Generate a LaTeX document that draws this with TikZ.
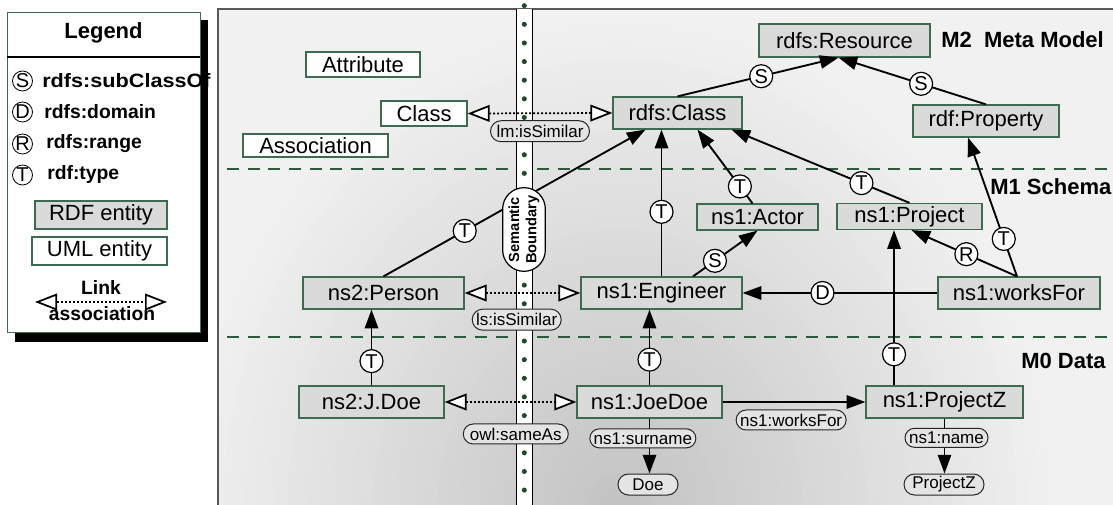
\documentclass[tikz,border=0pt]{standalone}
\usepackage{fontspec}
\setmainfont{Liberation Sans}
\usetikzlibrary{arrows.meta,shapes.misc,calc}
\definecolor{bgreen}{HTML}{3E6B50}
\definecolor{rdfgray}{HTML}{DADADA}
\definecolor{pillgray}{HTML}{E4E4E4}
\definecolor{dgreen}{HTML}{2B5A3C}
\definecolor{dotgreen}{HTML}{1E4A2E}
\definecolor{bglight}{HTML}{F1F1F1}
\definecolor{bgdark}{HTML}{C3C3C3}
\begin{document}
\begin{tikzpicture}[x=0.75pt,y=-0.75pt,
  sz/.style 2 args={minimum width=#1*0.75pt,minimum height=#2*0.75pt},
  box/.style={draw=bgreen,line width=0.9pt,inner sep=0pt,font=\fontsize{16.5}{18}\selectfont},
  rdfbox/.style={box,fill=rdfgray},
  umlbox/.style={box,fill=white},
  pill/.style={rounded rectangle,solid,draw=black!85,fill=pillgray,line width=0.75pt,inner xsep=3pt,inner ysep=0pt,font=\fontsize{12.75}{14}\selectfont},
  circ/.style={circle,solid,draw=black,fill=white,line width=0.9pt,inner sep=0pt,minimum size=17.25pt,font=\fontsize{15}{15}\selectfont},
  lcirc/.style={circ,line width=0.6pt,minimum size=15pt},
  conn/.style={line width=1.4pt,-{Triangle[length=14pt,width=10pt]}},
  link/.style={line width=1.3pt,dash pattern=on 1.5pt off 1.5pt,{Triangle[open,length=16.5pt,width=12.5pt,fill=white]}-{Triangle[open,length=16.5pt,width=12.5pt,fill=white]}},
  level/.style={font=\bfseries\fontsize{16.5}{19}\selectfont,anchor=west,inner sep=0pt},
  leg/.style={font=\bfseries\fontsize{14.5}{16}\selectfont,anchor=west,inner sep=0pt},
]
\useasboundingbox (0,0) rectangle (1113,505);

% ---------- Legend ----------
\fill[black] (15,20) rectangle (208,342);
\draw[draw=bgreen,fill=white,line width=0.75pt] (7,13) rectangle (200,333);
\draw[line width=1.5pt] (7,57) -- (200,57);
\node[font=\bfseries\fontsize{16.5}{18}\selectfont] (legtitle) at (103.5,33) {Legend};
\node[lcirc] (lS) at (22.5,81) {S};
\node[leg] (lSt) at (42,81) {\scalebox{1.12}[1]{rdfs:subClassOf}};
\node[lcirc] (lD) at (22.5,112) {D};
\node[leg] (lDt) at (44,112) {rdfs:domain};
\node[lcirc] (lR) at (22.5,144) {R};
\node[leg] (lRt) at (46,144) {rdfs:range};
\node[lcirc] (lT) at (22.5,175) {T};
\node[leg] (lTt) at (47,175) {rdf:type};
\node[rdfbox,sz={132}{28}] (lrdf) at (101,215) {RDF entity};
\node[umlbox,sz={135}{28}] (luml) at (99.5,251) {UML entity};
\coordinate (la) at (35,302);
\coordinate (lb) at (167,302);
\draw[link] (la) -- (lb);
\node[font=\bfseries\fontsize{14.5}{16}\selectfont] (llink) at (101,287) {Link};
\node[font=\bfseries\fontsize{14.5}{16}\selectfont] (lassoc) at (102,314) {association};

% ---------- Panel ----------
\begin{scope}
\clip (218,9) rectangle (1113,505);
\fill[bglight] (218,9) rectangle (1113,505);
\foreach \k in {0,...,40}{
  \pgfmathsetmacro\f{1-\k/41}
  \pgfmathtruncatemacro\p{100*\k/40}
  \fill[bgdark!\p!bglight] (620,510) ellipse [x radius={\f*330pt}, y radius={\f*375pt}];
}
\end{scope}
\draw[line width=0.9pt,black!65] (1113,9) -- (218,9) -- (218,505);

\draw[dgreen,line width=1.6pt,dash pattern=on 9pt off 6.5pt] (227,169) -- (1113,169);
\draw[dgreen,line width=1.6pt,dash pattern=on 9pt off 6.5pt] (227,337) -- (1113,337);

% boundary strip
\fill[white] (516,9) rectangle (532,505);
\draw[black,line width=0.75pt] (516,9) -- (516,505) (532,9) -- (532,505);
\foreach \i in {0,...,26} \fill[dotgreen] (524.3,{5.7+18.63*\i}) circle[radius=1.9pt];

\node[level] (m2) at (941,40) {M2\ \ Meta Model};
\node[level] (m1) at (990,187) {M1 Schema};
\node[level] (m0) at (1021,361) {M0 Data};

% ---------- Nodes ----------
\node[rdfbox,sz={171}{33}] (res) at (844.5,40.5) {rdfs:Resource};
\node[rdfbox,sz={146}{32}] (prop) at (986,121) {rdf:Property};
\node[rdfbox,sz={129}{32}] (cls) at (677.5,113) {rdfs:Class};
\node[umlbox,sz={86}{25}] (umlclass) at (424,113.5) {Class};
\node[umlbox,sz={114}{25}] (attr) at (363,64.5) {Attribute};
\node[umlbox,sz={145}{23}] (assoc) at (315.5,145.5) {Association};
\node[rdfbox,sz={161}{32}] (person) at (383.5,293) {ns2:Person};
\node[rdfbox,sz={161}{32}] (eng) at (661.5,293) {ns1:Engineer};
\node[rdfbox,sz={121}{26}] (actor) at (757.5,217) {ns1:Actor};
\node[rdfbox,sz={145}{26}] (proj) at (909.5,216.5) {ns1:Project};
\node[rdfbox,sz={162}{32}] (wf) at (1019,293) {ns1:worksFor};
\node[rdfbox,sz={145}{32}] (jdoe) at (371.5,402) {ns2:J.Doe};
\node[rdfbox,sz={145}{32}] (joe) at (649.5,402) {ns1:JoeDoe};
\node[rdfbox,sz={157}{32}] (pz) at (944.5,402) {ns1:ProjectZ};
\node[pill,sz={68}{21}] (doe) at (648,484.5) {Doe};
\node[pill,sz={88}{21}] (pzval) at (944,484.5) {ProjectZ};

% ---------- Connectors ----------
\draw[conn] (cls.north) -- node[circ,pos=.52]{S} ($(res.south)+(-6,0)$);
\draw[conn] (prop.north) -- node[circ,pos=.44]{S} ($(res.south)+(-6,0)$);
\draw[link] (umlclass.east) -- node[pill,sz={96}{21},pos=.5,yshift=-13.5pt]{lm:isSimilar} (cls.west);
\draw[conn] (person.north) -- node[circ,pos=.31]{T} ($(cls.south)+(-32,0)$);
\draw[conn] (eng.north) -- node[circ,pos=.44]{T} (eng.north |- cls.south);
\draw[conn] ($(actor.north)+(-5,0)$) -- node[circ,pos=.23]{T} ($(cls.south)+(20,0)$);
\draw[conn] (proj.north) -- node[circ,pos=.27]{T} ($(cls.south)+(54,0)$);
\draw[conn] ($(wf.north)+(-2,0)$) -- node[circ,pos=.27]{T} ($(prop.south)+(-18,0)$);
\draw[conn] ($(wf.north)+(-2,0)$) -- node[circ,pos=.48]{R} ($(proj.south)+(2,0)$);
\coordinate (pzt) at ($(pz.north)+(-50.5,0)$);
\draw[conn] (pzt) -- node[circ,pos=.2]{T} (pzt |- proj.south);
\draw[conn] (wf.west) -- node[circ,pos=.59]{D} (eng.east);
\draw[conn] ($(eng.north)+(31.5,0)$) -- node[circ,pos=.34]{S} (actor.south);
\draw[link] (person.east) -- node[pill,sz={97}{21},pos=.45,yshift=-20pt]{ls:isSimilar} (eng.west);
\draw[conn] (jdoe.north) -- node[circ,pos=.32]{T} (jdoe.north |- person.south);
\draw[conn] (joe.north) -- node[circ,pos=.34]{T} (joe.north |- eng.south);
\draw[link] (jdoe.east) -- node[pill,sz={113}{20},pos=.54,yshift=-24pt]{owl:sameAs} (joe.west);
\draw[conn] (joe.east) -- node[pill,sz={118}{20},pos=.48,yshift=-13.5pt]{ns1:worksFor} (pz.west);
\draw[conn] (joe.south) -- node[pill,sz={114}{19},pos=.36,xshift=-5pt]{ns1:surname} (joe.south |- doe.north);
\draw[conn] (pz.south) -- node[pill,sz={91}{19},pos=.35,xshift=1.5pt]{ns1:name} (pz.south |- pzval.north);

% ---------- Semantic boundary ----------
\node[rounded rectangle,rotate=90,draw=black,fill=white,line width=0.9pt,minimum width=66.75pt,minimum height=32pt,inner xsep=2pt,inner ysep=3pt,align=center,font=\bfseries\fontsize{11}{13}\selectfont] (sb) at (524,229.5) {Semantic\\Boundary};
\end{tikzpicture}
\end{document}
